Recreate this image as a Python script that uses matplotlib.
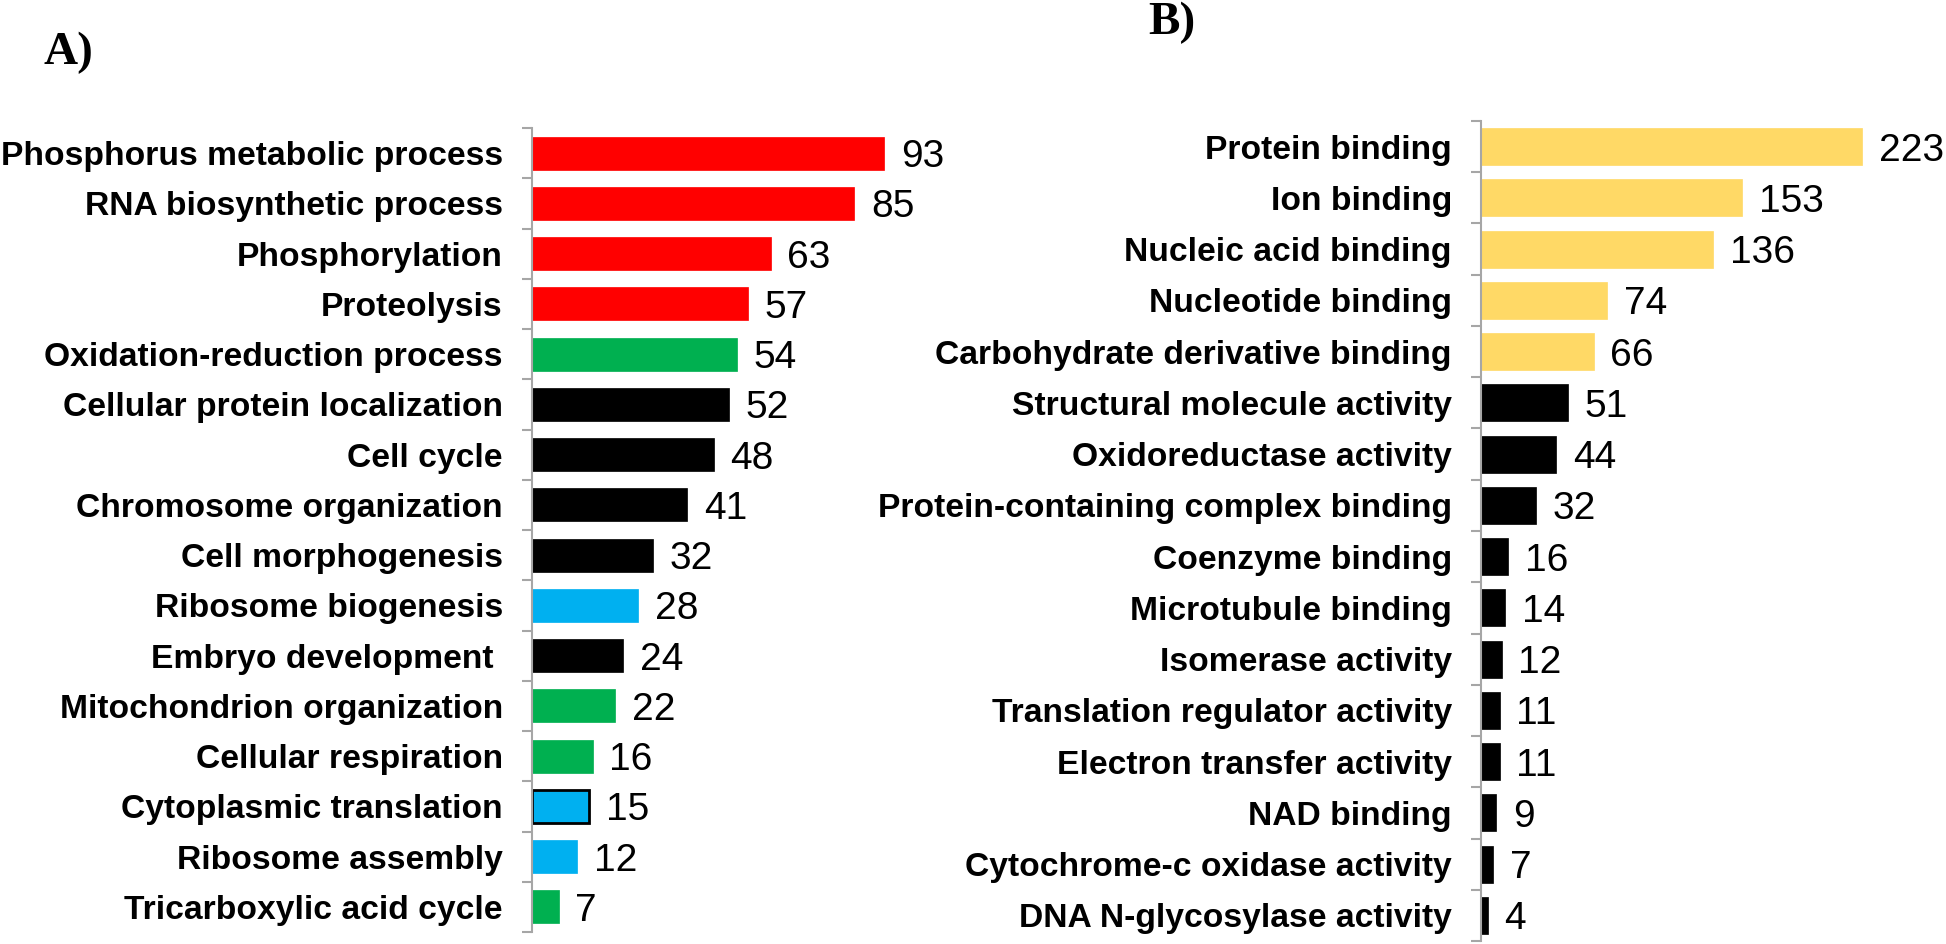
import matplotlib
matplotlib.use("Agg")
import matplotlib.pyplot as plt
import numpy as np

plt.rcParams['font.family'] = ['Liberation Sans', 'DejaVu Sans']

# panel A: biological process
bp_terms = ["Phosphorus metabolic process", "RNA biosynthetic process", "Phosphorylation",
            "Proteolysis", "Oxidation-reduction process", "Cellular protein localization",
            "Cell cycle", "Chromosome organization", "Cell morphogenesis",
            "Ribosome biogenesis", "Embryo development ", "Mitochondrion organization",
            "Cellular respiration", "Cytoplasmic translation", "Ribosome assembly",
            "Tricarboxylic acid cycle"]
bp_counts = [93, 85, 63, 57, 54, 52, 48, 41, 32, 28, 24, 22, 16, 15, 12, 7]
bp_group = ["red", "red", "red", "red", "green", "black", "black", "black", "black",
            "blue", "black", "green", "green", "blue", "blue", "green"]

# panel B: molecular function
mf_terms = ["Protein binding", "Ion binding", "Nucleic acid binding", "Nucleotide binding",
            "Carbohydrate derivative binding", "Structural molecule activity",
            "Oxidoreductase activity", "Protein-containing complex binding",
            "Coenzyme binding", "Microtubule binding", "Isomerase activity",
            "Translation regulator activity", "Electron transfer activity", "NAD binding",
            "Cytochrome-c oxidase activity", "DNA N-glycosylase activity"]
mf_counts = [223, 153, 136, 74, 66, 51, 44, 32, 16, 14, 12, 11, 11, 9, 7, 4]
mf_group = ["yellow"] * 5 + ["black"] * 11

palette = {"red": "#FF0000", "green": "#00B050", "blue": "#00B0F0",
           "black": "#000000", "yellow": "#FFD966"}

W, H = 1946, 944
fig = plt.figure(figsize=(W / 100, H / 100), dpi=100)


def panel(rect, terms, counts, groups, xmax, height, edged=()):
    ax = fig.add_axes(rect)
    y = np.arange(len(terms))
    cols = [palette[g] for g in groups]
    bars = ax.barh(y, counts, height=height, color=cols, edgecolor=cols, linewidth=0.5)
    for i in edged:
        bars[i].set_edgecolor("black")
        bars[i].set_linewidth(2)
    ax.set_ylim(len(terms) - 0.5, -0.5)
    ax.set_xlim(0, xmax)
    for s in ["top", "right", "bottom"]:
        ax.spines[s].set_visible(False)
    ax.spines["left"].set_color("#A6A6A6")
    ax.spines["left"].set_linewidth(1.5)
    ax.set_xticks([])
    # excel-style ticks between categories, labels on the category centres
    ax.set_yticks(np.arange(len(terms) + 1) - 0.5)
    ax.set_yticklabels([])
    ax.set_yticks(y, minor=True)
    ax.set_yticklabels(terms, minor=True, fontsize=24.2, fontweight="bold")
    ax.tick_params(axis="y", which="major", length=7, width=1.5, color="#A6A6A6")
    ax.tick_params(axis="y", which="minor", length=0, pad=21)
    for yi, v in zip(y, counts):
        ax.annotate(str(v), (v, yi), xytext=(12, 0), textcoords="offset points",
                    va="center_baseline", ha="left", fontsize=28, clip_on=False)
    return ax


panel([532 / W, 1 - 932 / H, 379 / W, 804 / H], bp_terms, bp_counts, bp_group,
      100, 0.66, edged=(13,))
panel([1481 / W, 1 - 941 / H, 410 / W, 820 / H], mf_terms, mf_counts, mf_group,
      240, 0.72)

fig.text(44 / W, 1 - 64 / H, "A)", family="Liberation Serif", fontweight="bold",
         fontsize=34, ha="left", va="baseline")
fig.text(1148 / W, 1 - 34 / H, "B)", family="Liberation Serif", fontweight="bold",
         fontsize=34, ha="left", va="baseline")

fig.savefig("out.png", dpi=100)
